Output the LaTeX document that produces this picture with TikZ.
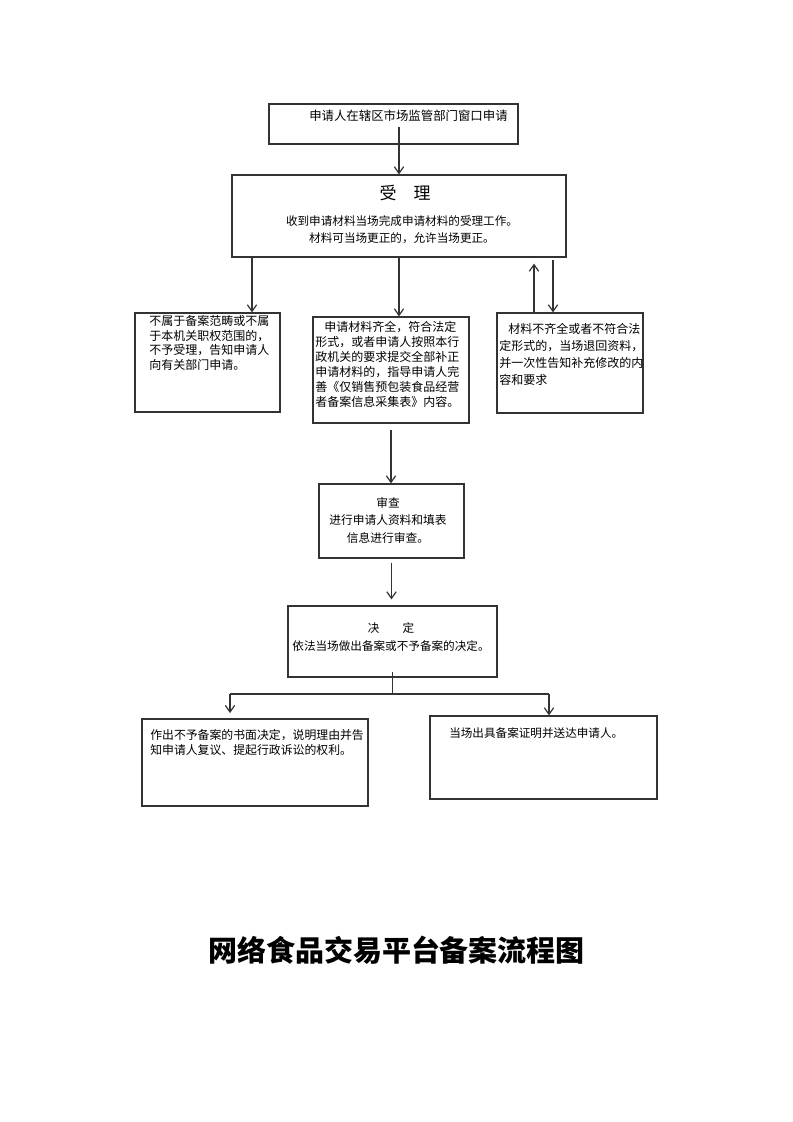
\documentclass[tikz,border=0pt]{standalone}
\usepackage{fontspec}
\setmainfont{Noto Sans CJK SC}
\usetikzlibrary{positioning, calc, arrows.meta}
\tikzstyle{Box} = [draw=black!80, line width=0.9pt, inner sep=0pt]
\tikzstyle{Txt} = [inner sep=0pt, font=\fontsize{9}{11.2}\selectfont]
\tikzstyle{Line} = [draw=black!80, line width=0.9pt]
\tikzstyle{Arrow} = [Line, -{Straight Barb[length=5pt, width=7pt]}]

\begin{document}
\begin{tikzpicture}[x=0.75pt, y=-0.75pt]
    \useasboundingbox (0,0) rectangle (793,1122);

    % boxes
    \node [Box, minimum width=186.75pt, minimum height=30pt] (1) at (393.5,124) {};
    \node [Box, minimum width=250.5pt, minimum height=61.5pt] (2) at (399,216) {};
    \node [Box, minimum width=108.75pt, minimum height=74.25pt] (3) at (207.5,362.5) {};
    \node [Box, minimum width=117pt, minimum height=79.5pt] (4) at (391,370) {};
    \node [Box, minimum width=109.5pt, minimum height=75pt] (5) at (570,363) {};
    \node [Box, minimum width=108.75pt, minimum height=55.5pt] (6) at (391.5,521) {};
    \node [Box, minimum width=156.75pt, minimum height=53.25pt] (7) at (392.5,641.5) {};
    \node [Box, minimum width=169.5pt, minimum height=65.25pt] (8) at (255,762.5) {};
    \node [Box, minimum width=170.25pt, minimum height=62.25pt] (9) at (543.5,757.5) {};

    % texts
    \node [Txt, anchor=west, font=\fontsize{9.3}{11.2}\selectfont] (1a) at (309,116) {申请人在辖区市场监管部门窗口申请};
    \node [Txt, font=\fontsize{12.75}{15}\selectfont] (2a) at (405,193) {受\quad 理};
    \node [Txt, anchor=north, align=center, font=\fontsize{8.7}{13}\selectfont] (2b) at (402,215) {收到申请材料当场完成申请材料的受理工作。\\材料可当场更正的，允许当场更正。};
    \node [Txt, anchor=north west, align=left, font=\fontsize{9}{11}\selectfont] (3a) at (149,315) {不属于备案范畴或不属\\于本机关职权范围的，\\不予受理，告知申请人\\向有关部门申请。};
    \node [Txt, anchor=north west, align=left] (4a) at (315,321) {\hspace*{0.75em}申请材料齐全，符合法定\\形式，或者申请人按照本行\\政机关的要求提交全部补正\\申请材料的，指导申请人完\\善《仅销售预包装食品经营\\者备案信息采集表》内容。};
    \node [Txt, anchor=north west, align=left, font=\fontsize{9}{12.75}\selectfont] (5a) at (499,323) {\hspace*{0.75em}材料不齐全或者不符合法\\定形式的，当场退回资料，\\并一次性告知补充修改的内\\容和要求};
    \node [Txt, anchor=north, align=center, font=\fontsize{8.8}{13.1}\selectfont] (6a) at (388,497) {审查\\进行申请人资料和填表\\信息进行审查。};
    \node [Txt, anchor=north, align=center, font=\fontsize{8.7}{14}\selectfont] (7a) at (391,622) {决\hspace{2em}定\\依法当场做出备案或不予备案的决定。};
    \node [Txt, anchor=north west, align=left, font=\fontsize{8.9}{11.25}\selectfont] (8a) at (150,729) {作出不予备案的书面决定，说明理由并告\\知申请人复议、提起行政诉讼的权利。};
    \node [Txt, anchor=west, font=\fontsize{8.7}{11}\selectfont] (9a) at (449,733) {当场出具备案证明并送达申请人。};
    \node [Txt, font=\bfseries\fontsize{21.75}{26}\selectfont] (10) at (396.5,950) {网络食品交易平台备案流程图};

    % arrow columns
    \coordinate (L) at (252,0);
    \coordinate (U) at (534,0);
    \coordinate (D) at (553,0);
    \coordinate (J1) at (230,694);
    \coordinate (J2) at (549,694);

    \draw[Arrow] ([yshift=-4pt]1a.south -| 2.north) -- (2.north);
    \draw[Arrow] (2.south -| L) -- (3.north -| L);
    \draw[Arrow] (2.south) -- (2.south |- 4.north);
    \draw[Arrow] (5.north -| U) -- ([yshift=-4.5pt]2.south -| U);
    \draw[Arrow] ([yshift=-2pt]2.south -| D) -- (5.north -| D);
    \draw[Arrow] ([yshift=-5pt]4.south) -- (4.south |- 6.north);
    \draw[Arrow] ([yshift=-3pt]6.south) -- ([yshift=4.5pt]6.south |- 7.north);
    \draw[Line] ([yshift=4pt]7.south) -- (7.south |- J1);
    \draw[Line] (J1) -- (J2);
    \draw[Arrow] (J1) -- ([yshift=4pt]8.north -| J1);
    \draw[Arrow] (J2) -- (9.north -| J2);
\end{tikzpicture}
\end{document}
